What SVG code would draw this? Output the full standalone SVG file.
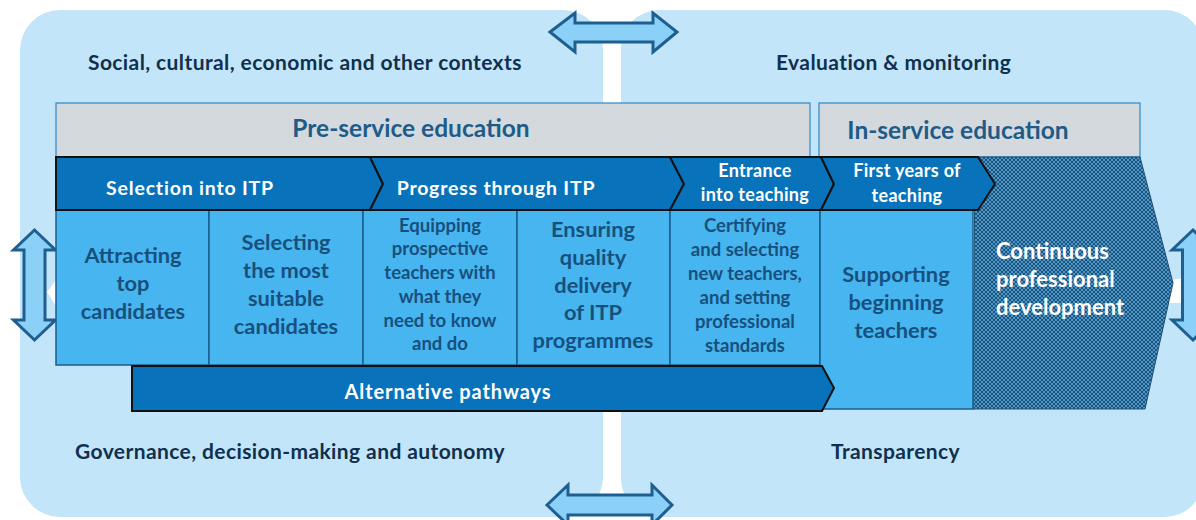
<svg xmlns="http://www.w3.org/2000/svg" width="1196" height="520" viewBox="0 0 1196 520">
<defs>
<style>
.t{font-family:Lato,"Liberation Sans",sans-serif;font-weight:700}
.ctx{font-size:21px;letter-spacing:0.4px;fill:#10304d}
.hdr{font-size:24.5px;fill:#1d5c89}
.chev{fill:#0873bb;stroke:#111;stroke-width:2;stroke-linejoin:miter}
.ct{font-size:19.5px;letter-spacing:0.8px;fill:#fff}
.cs{font-size:18px;letter-spacing:0.3px;fill:#fff}
.alt{font-size:20px;letter-spacing:0.9px;fill:#fff}
.cell{fill:#47b5ef;stroke:#1b5e8e;stroke-width:1.5}
.cb{font-size:21.8px;fill:#17507d}
.cm{font-size:18.5px;fill:#17507d}
.cw{font-size:22px;fill:#fff}
.arr{fill:#8ad0f7;stroke:#1e5f90;stroke-width:3;stroke-linejoin:miter}
.bg{fill:#c3e5fa}
</style>
<pattern id="hatch" width="4" height="4" patternUnits="userSpaceOnUse">
<rect width="4" height="4" fill="#1c5279"/>
<circle cx="0" cy="0" r="1.1" fill="#5aa9dc"/>
<circle cx="4" cy="0" r="1.1" fill="#5aa9dc"/>
<circle cx="0" cy="4" r="1.1" fill="#5aa9dc"/>
<circle cx="4" cy="4" r="1.1" fill="#5aa9dc"/>
<circle cx="2" cy="2" r="1.1" fill="#5aa9dc"/>
</pattern>
</defs>

<g id="background">
<rect class="bg" x="20" y="10" width="583" height="507" rx="40"/>
<rect class="bg" x="621" y="10" width="582" height="507" rx="38"/>
<polygon points="47,292 56,280 56,306" fill="#fff"/>
<polygon points="1165,281 1183,278 1183,303 1165,303" fill="#fff"/>
</g>

<g id="contexts">
<text class="t ctx" x="88" y="70">Social, cultural, economic and other contexts</text>
<text class="t ctx" x="776" y="70">Evaluation &amp; monitoring</text>
<text class="t ctx" x="75" y="459">Governance, decision-making and autonomy</text>
<text class="t ctx" x="831" y="459">Transparency</text>
</g>

<g id="arrows">
<path class="arr" d="M550,32 L575,13 V23 H653 V13 L677,32 L653,52 V42 H575 V52 Z"/>
<path class="arr" d="M547,505 L568,485 V495 H652 V485 L672,505 L652,525 V515 H568 V525 Z"/>
<path class="arr" d="M34.5,230 L55.5,250 H45 V320 H55.5 L34.5,340 L13.5,320 H24 V250 H13.5 Z"/>
<path class="arr" d="M1193,230 L1214,250 H1203.5 V320 H1214 L1193,340 L1172,320 H1182.5 V250 H1172 Z"/>
</g>

<g id="pre-service">
<rect x="56" y="103" width="754" height="54" fill="#d4d9dd" stroke="#2f86c6" stroke-width="1.2"/>
<text class="t hdr" x="411" y="137" text-anchor="middle">Pre-service education</text>
</g>
<g id="in-service">
<rect x="819" y="103" width="321" height="54" fill="#d4d9dd" stroke="#2f86c6" stroke-width="1.2"/>
<text class="t hdr" x="958" y="139" text-anchor="middle">In-service education</text>
</g>

<g id="cpd">
<polygon points="975,157 1140,157 1173,283 1145,409 973,409" fill="url(#hatch)" stroke="#1d4f72" stroke-width="1"/>
<text class="t cw" x="996" y="259">Continuous</text>
<text class="t cw" x="996" y="287">professional</text>
<text class="t cw" x="996" y="315">development</text>
</g>

<g id="cells">
<rect class="cell" x="56" y="210" width="153" height="155"/>
<rect class="cell" x="209" y="210" width="154" height="155"/>
<rect class="cell" x="363" y="210" width="154" height="155"/>
<rect class="cell" x="517" y="210" width="153" height="155"/>
<rect class="cell" x="670" y="210" width="150" height="155"/>
<rect class="cell" x="820" y="210" width="153" height="199"/>
</g>

<g id="cell-attracting">
<text class="t cb" x="133" y="263" text-anchor="middle">Attracting</text>
<text class="t cb" x="133" y="291" text-anchor="middle">top</text>
<text class="t cb" x="133" y="319" text-anchor="middle">candidates</text>
</g>
<g id="cell-selecting">
<text class="t cb" x="286" y="250" text-anchor="middle">Selecting</text>
<text class="t cb" x="286" y="278" text-anchor="middle">the most</text>
<text class="t cb" x="286" y="306" text-anchor="middle">suitable</text>
<text class="t cb" x="286" y="334" text-anchor="middle">candidates</text>
</g>
<g id="cell-equipping">
<text class="t cm" x="440" y="232" text-anchor="middle">Equipping</text>
<text class="t cm" x="440" y="255" text-anchor="middle">prospective</text>
<text class="t cm" x="440" y="279" text-anchor="middle">teachers with</text>
<text class="t cm" x="440" y="303" text-anchor="middle">what they</text>
<text class="t cm" x="440" y="327" text-anchor="middle">need to know</text>
<text class="t cm" x="440" y="350" text-anchor="middle">and do</text>
</g>
<g id="cell-ensuring">
<text class="t cb" x="593" y="237" text-anchor="middle">Ensuring</text>
<text class="t cb" x="593" y="265" text-anchor="middle">quality</text>
<text class="t cb" x="593" y="293" text-anchor="middle">delivery</text>
<text class="t cb" x="593" y="320" text-anchor="middle">of ITP</text>
<text class="t cb" x="593" y="348" text-anchor="middle">programmes</text>
</g>
<g id="cell-certifying">
<text class="t cm" x="745" y="232" text-anchor="middle">Certifying</text>
<text class="t cm" x="745" y="256" text-anchor="middle">and selecting</text>
<text class="t cm" x="745" y="280" text-anchor="middle">new teachers,</text>
<text class="t cm" x="745" y="304" text-anchor="middle">and setting</text>
<text class="t cm" x="745" y="328" text-anchor="middle">professional</text>
<text class="t cm" x="745" y="352" text-anchor="middle">standards</text>
</g>
<g id="cell-supporting">
<text class="t cb" x="896" y="282" text-anchor="middle">Supporting</text>
<text class="t cb" x="896" y="310" text-anchor="middle">beginning</text>
<text class="t cb" x="896" y="338" text-anchor="middle">teachers</text>
</g>

<g id="stage-selection">
<path class="chev" d="M56,157 H370 L383,184 L370,210 H56 Z"/>
<text class="t ct" x="190" y="195" text-anchor="middle">Selection into ITP</text>
</g>
<g id="stage-progress">
<path class="chev" d="M370,157 H670 L684,184 L670,210 H370 L383,184 Z"/>
<text class="t ct" x="496" y="195" text-anchor="middle">Progress through ITP</text>
</g>
<g id="stage-entrance">
<path class="chev" d="M670,157 H821 L834,184 L821,210 H670 L684,184 Z"/>
<text class="t cs" x="755" y="177" text-anchor="middle">Entrance</text>
<text class="t cs" x="755" y="201" text-anchor="middle">into teaching</text>
</g>
<g id="stage-first-years">
<path class="chev" d="M821,157 H978 L995,184 L978,210 H821 L834,184 Z"/>
<text class="t cs" x="907" y="177" text-anchor="middle">First years of</text>
<text class="t cs" x="907" y="202" text-anchor="middle">teaching</text>
</g>

<g id="alternative-pathways">
<path class="chev" d="M132,366 H822 L834,388 L822,411 H132 Z"/>
<text class="t alt" x="448" y="399" text-anchor="middle">Alternative pathways</text>
</g>
</svg>
